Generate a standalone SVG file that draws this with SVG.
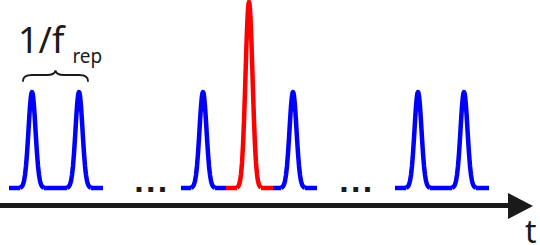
<svg xmlns="http://www.w3.org/2000/svg" xmlns:xlink="http://www.w3.org/1999/xlink" width="540" height="245" viewBox="0 0 540 245">
<style>
.b{fill:none;stroke:#0000FF;stroke-width:4.5;stroke-linejoin:round;stroke-linecap:butt}
.r{fill:none;stroke:#FF0000;stroke-width:4.5;stroke-linejoin:round;stroke-linecap:butt}
.lbl{font-family:"Noto Sans","Open Sans",sans-serif;fill:#1a1a1a}
.dots{font-family:"Liberation Sans",Arial,sans-serif;font-weight:bold;font-size:34px;letter-spacing:2.3px;fill:#1a1a1a}
.axis{stroke:#1a1a1a;stroke-width:5;fill:none}
.brace{fill:none;stroke:#1a1a1a;stroke-width:1.8;stroke-linecap:round}
</style>
<defs>
<path id="pb" d="M-12,0 L-12,-0.3 L-11,-0.7 L-10,-1.6 L-9,-3.5 L-8,-7 L-7,-13 L-6,-22.1 L-5,-34.6 L-4,-49.9 L-3,-66.5 L-2.5,-74.4 L-2,-81.5 L-1.5,-87.6 L-1,-92.2 L-0.5,-95 L0,-96 L0.5,-95 L1,-92.2 L1.5,-87.6 L2,-81.5 L2.5,-74.4 L3,-66.5 L4,-49.9 L5,-34.6 L6,-22.1 L7,-13 L8,-7 L9,-3.5 L10,-1.6 L11,-0.7 L12,-0.3 L12,0"/>
<path id="pr" d="M-12,0 L-12,-0.5 L-11,-1.3 L-10,-3.1 L-9,-6.8 L-8,-13.7 L-7,-25.1 L-6,-42.8 L-5,-67 L-4,-96.7 L-3,-128.9 L-2.5,-144.2 L-2,-157.9 L-1.5,-169.6 L-1,-178.6 L-0.5,-184.1 L0,-186 L0.5,-184.1 L1,-178.6 L1.5,-169.6 L2,-157.9 L2.5,-144.2 L3,-128.9 L4,-96.7 L5,-67 L6,-42.8 L7,-25.1 L8,-13.7 L9,-6.8 L10,-3.1 L11,-1.3 L12,-0.5 L12,0"/>
</defs>
<g id="axis">
<line class="axis" x1="0" y1="205.5" x2="512" y2="205.5"/>
<polygon points="508,193 533,206 508,219" fill="#1a1a1a"/>
<text class="lbl" x="525" y="243" font-size="32">t</text>
</g>
<g id="train-left">
<path class="b" d="M9,188 H20 M44,188 H67 M91,188 H103"/>
<use xlink:href="#pb" class="b" transform="translate(32,188)"/>
<use xlink:href="#pb" class="b" transform="translate(79,188)"/>
</g>
<g id="period-label">
<path class="brace" d="M23,81 C23,77 26,75 32,75 L47,75 C52,75 55,73.5 55.5,70.5 C56,73.5 59,75 64,75 L79,75 C85,75 88,77 88,81"/>
<text class="lbl" x="18" y="53" font-size="36">1/f<tspan font-size="19" dx="8" dy="9.5">rep</tspan></text>
</g>
<g id="dots-left"><text class="dots" x="134.3" y="191.7">...</text></g>
<g id="train-middle">
<path class="b" d="M181,188 H191 M215,188 H226 M273,188 H281 M305,188 H317"/>
<use xlink:href="#pb" class="b" transform="translate(203,188)"/>
<use xlink:href="#pb" class="b" transform="translate(293,188)"/>
</g>
<g id="pulse-red">
<path class="r" d="M226,188 H237 M261,188 H273"/>
<use xlink:href="#pr" class="r" transform="translate(249,188)"/>
</g>
<g id="dots-right"><text class="dots" x="339.3" y="191.7">...</text></g>
<g id="train-right">
<path class="b" d="M395,188 H406 M430,188 H452 M476,188 H489"/>
<use xlink:href="#pb" class="b" transform="translate(418,188)"/>
<use xlink:href="#pb" class="b" transform="translate(464,188)"/>
</g>
</svg>
